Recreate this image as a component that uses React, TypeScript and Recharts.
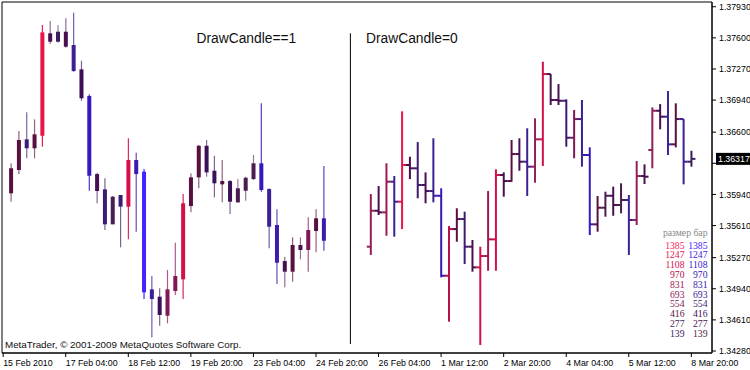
import {
  Bar,
  ComposedChart,
  ReferenceArea,
  ReferenceLine,
  XAxis,
  YAxis,
} from "recharts";

// EURUSD H4, two blocks: candles (DrawCandle==1) then OHLC bars (DrawCandle=0)
const candleStart = 0;
const candleOpen = [
  1.35952, 1.36199, 1.36524, 1.36429, 1.36562, 1.37648, 1.37559, 1.37665, 1.37524, 1.37266,
  1.36983, 1.36156, 1.35994, 1.35623, 1.35934, 1.3581, 1.36305, 1.36181, 1.34934, 1.34856,
  1.34654, 1.34916, 1.3504, 1.35817, 1.36121, 1.36456, 1.36191, 1.36047, 1.36082, 1.35856,
  1.35979, 1.36103, 1.3627, 1.35997, 1.35616, 1.35234, 1.35121, 1.35404, 1.35351, 1.35552,
  1.35687,
];
const candleHigh = [
  1.3627, 1.36612, 1.3681, 1.36736, 1.37736, 1.37778, 1.37736, 1.37807, 1.37866, 1.37357,
  1.37001, 1.3617, 1.36111, 1.35923, 1.35934, 1.36535, 1.36382, 1.36209, 1.35075, 1.34945,
  1.35139, 1.35428, 1.35944, 1.36164, 1.36464, 1.36517, 1.3635, 1.36305, 1.36093, 1.36103,
  1.36128, 1.36358, 1.36906, 1.36005, 1.35782, 1.3528, 1.35485, 1.35485, 1.35697, 1.35782,
  1.36241,
];
const candleLow = [
  1.35863, 1.36156, 1.36323, 1.36323, 1.36446, 1.37534, 1.37548, 1.37495, 1.37241, 1.36933,
  1.35979, 1.35846, 1.35563, 1.35623, 1.35379, 1.35464, 1.35545, 1.34831, 1.34425, 1.34548,
  1.34574, 1.34874, 1.34831, 1.3575, 1.36005, 1.36128, 1.35909, 1.35856, 1.35732, 1.35852,
  1.35873, 1.36093, 1.35969, 1.35369, 1.3499, 1.34955, 1.35015, 1.35252, 1.35121, 1.35326,
  1.35343,
];
const candleClose = [
  1.36217, 1.36517, 1.36429, 1.36577, 1.37658, 1.37559, 1.37665, 1.37506, 1.37248, 1.36959,
  1.36138, 1.35976, 1.35623, 1.35916, 1.3581, 1.36305, 1.36156, 1.34902, 1.34831, 1.34662,
  1.34934, 1.35075, 1.35846, 1.36121, 1.36456, 1.36174, 1.36058, 1.36082, 1.35863, 1.36005,
  1.36117, 1.3627, 1.35987, 1.35598, 1.35216, 1.35121, 1.35404, 1.35351, 1.35563, 1.35687,
  1.35449,
];

const barStart = 46;
const barOpen = [
  1.35386, 1.35767, 1.3575, 1.36075, 1.35863, 1.36252, 1.36217, 1.3604, 1.35976, 1.35926,
  1.35078, 1.35573, 1.35679, 1.35386, 1.35167, 1.35287, 1.35464, 1.36146, 1.36082, 1.36368,
  1.36287, 1.36234, 1.36524, 1.37216, 1.36941, 1.36933, 1.36541, 1.36739, 1.36358, 1.35623,
  1.35799, 1.35926, 1.35828, 1.35881, 1.35669, 1.36135, 1.36411, 1.36827, 1.36764, 1.36471,
  1.36739, 1.36287,
];
const barHigh = [
  1.35944, 1.36029, 1.3627, 1.36135, 1.36821, 1.3634, 1.36495, 1.36174, 1.36535, 1.36005,
  1.35605, 1.35793, 1.35757, 1.35457, 1.35386, 1.35976, 1.36206, 1.36174, 1.36517, 1.36535,
  1.36641, 1.36747, 1.37347, 1.37216, 1.3711, 1.36948, 1.36835, 1.36941, 1.36439, 1.35923,
  1.35969, 1.36022, 1.36058, 1.35934, 1.36294, 1.36259, 1.36863, 1.36898, 1.37036, 1.36906,
  1.36739, 1.36403,
];
const barLow = [
  1.35298, 1.35722, 1.35502, 1.35492, 1.35573, 1.36103, 1.35899, 1.35846, 1.35856, 1.35061,
  1.34591, 1.35439, 1.35202, 1.35121, 1.34344, 1.35131, 1.35131, 1.35916, 1.36075, 1.36191,
  1.35923, 1.36064, 1.36241, 1.36888, 1.36888, 1.36446, 1.36323, 1.36234, 1.3551, 1.35545,
  1.35704, 1.35714, 1.3574, 1.35298, 1.35616, 1.3605, 1.36217, 1.3663, 1.36358, 1.36439,
  1.36047, 1.36234,
];
const barClose = [
  1.35767, 1.3575, 1.36075, 1.35863, 1.36252, 1.36217, 1.3604, 1.35976, 1.35926, 1.35078,
  1.35573, 1.35679, 1.35386, 1.35167, 1.35287, 1.35464, 1.36146, 1.36082, 1.36368, 1.36287,
  1.36234, 1.36524, 1.37216, 1.36941, 1.36933, 1.36541, 1.36739, 1.36358, 1.35623, 1.35799,
  1.35926, 1.35828, 1.35881, 1.35669, 1.36135, 1.36128, 1.36827, 1.36764, 1.36471, 1.36739,
  1.36287, 1.36317,
];

const xTickSlots = [-1, 7, 15, 23, 31, 39, 47, 55, 63, 71, 79, 87];
const xTickLabels = [
  "15 Feb 2010", "17 Feb 04:00", "18 Feb 12:00", "19 Feb 20:00", "23 Feb 04:00", "24 Feb 20:00",
  "26 Feb 04:00", "1 Mar 12:00", "2 Mar 20:00", "4 Mar 04:00", "5 Mar 12:00", "8 Mar 20:00",
];
const yTicks = [
  1.3428, 1.3461, 1.3494, 1.3527, 1.3561, 1.3594, 1.3627, 1.366, 1.3694, 1.3727, 1.376, 1.3793,
];

// "размер бар" legend: bar range in points and its colour for up / down bars
const sizeLevels = [1385, 1247, 1108, 970, 831, 693, 554, 416, 277, 139];
const bullColors = ["#f41c58", "#e8144c", "#d41048", "#b81048", "#a01850", "#902058", "#801858", "#581040", "#4a1c50", "#3c1c60"];
const bearColors = ["#4424fc", "#4020e8", "#3818d4", "#3818bc", "#3c1cac", "#3c2094", "#3c1c70", "#3c1058", "#481050", "#541848"];

const xMin = -1.151;
const xMax = 89.642;
const yMin = 1.34259;
const yMax = 1.3798;
const dividerSlot = 43.4;
const dividerTop = 1.37648;
const dividerBottom = 1.34354;
const lastPrice = barClose[barClose.length - 1];

const AXIS_FONT = "'Liberation Sans', Arial, sans-serif";

type Row = { slot: number; kind: "candle" | "bar"; open: number; high: number; low: number; close: number };

const rows: Row[] = [
  ...candleOpen.map((o, i) => ({
    slot: candleStart + i, kind: "candle" as const,
    open: o, high: candleHigh[i], low: candleLow[i], close: candleClose[i],
  })),
  ...barOpen.map((o, i) => ({
    slot: barStart + i, kind: "bar" as const,
    open: o, high: barHigh[i], low: barLow[i], close: barClose[i],
  })),
];

const levelIndex = (r: Row) => {
  const size = (r.high - r.low) * 100000;
  let best = 0;
  sizeLevels.forEach((lv, i) => {
    if (Math.abs(lv - size) < Math.abs(sizeLevels[best] - size)) best = i;
  });
  return best;
};

const colorOf = (r: Row) => (r.close >= r.open ? bullColors : bearColors)[levelIndex(r)];

const OhlcShape = (props: any) => {
  const { x, y, width, height, payload } = props;
  if (!payload || x == null || y == null) return null;
  const r = payload as Row;
  const cx = x + (width || 0) / 2;
  const top = Math.min(y, y + height);
  const bottom = Math.max(y, y + height);
  const span = r.high - r.low || 1e-9;
  const toY = (v: number) => top + ((r.high - v) / span) * (bottom - top);
  const color = colorOf(r);

  if (r.kind === "candle") {
    const bTop = toY(Math.max(r.open, r.close));
    const bBottom = toY(Math.min(r.open, r.close));
    const wickOpacity = 0.5 + (0.5 * (r.high - r.low) * 100000) / 1385;
    return (
      <g>
        <line x1={cx} x2={cx} y1={top} y2={bottom} stroke={color} strokeWidth={1.2} strokeOpacity={Math.min(wickOpacity, 1)} />
        <rect x={cx - 2} y={bTop} width={4} height={Math.max(bBottom - bTop, 1.5)} fill={color} />
      </g>
    );
  }
  return (
    <g stroke={color} strokeWidth={2}>
      <line x1={cx} x2={cx} y1={top} y2={bottom} />
      <line x1={cx - 4} x2={cx} y1={toY(r.open)} y2={toY(r.open)} />
      <line x1={cx} x2={cx + 4} y1={toY(r.close)} y2={toY(r.close)} />
    </g>
  );
};

// MetaTrader puts the time label to the right of its tick mark
const TimeTick = (props: any) => {
  const { x, y, payload } = props;
  const label = xTickLabels[xTickSlots.indexOf(payload.value)] ?? "";
  return (
    <text x={x} y={y} dy="0.71em" textAnchor="start" fontSize={8.8} fontFamily={AXIS_FONT} fill="#000">
      {label}
    </text>
  );
};

// the price tag covers the scale label next to it
const priceLabel = (v: number) => (Math.abs(v - lastPrice) < 0.0006 ? "" : v.toFixed(5));

const PriceTag = (props: any) => {
  const vb = props.viewBox;
  if (!vb) return null;
  const left = vb.x + vb.width + 4;
  return (
    <g>
      <rect x={left} y={vb.y - 6} width={34} height={12} fill="#000" />
      <text x={left + 2} y={vb.y + 3.3} fontSize={8.8} fontFamily={AXIS_FONT} fill="#fff">
        {lastPrice.toFixed(5)}
      </text>
    </g>
  );
};

const ScreenTexts = () => (
  <g>
    <text x={196.5} y={43.3} fontSize={13.8} fontFamily={AXIS_FONT} fill="#111">DrawCandle==1</text>
    <text x={366} y={43} fontSize={13.8} fontFamily={AXIS_FONT} fill="#111">DrawCandle=0</text>
    <text x={5} y={348} fontSize={9.8} fontFamily={AXIS_FONT} fill="#111">
      MetaTrader, © 2001-2009 MetaQuotes Software Corp.
    </text>
    <text x={707.5} y={235.5} textAnchor="end" fontSize={9.7} fontFamily="'Liberation Serif', serif" fill="#888">
      размер бар
    </text>
    {sizeLevels.map((lv, i) => (
      <g key={lv} fontSize={9.7} fontFamily="'Liberation Serif', serif" textAnchor="end">
        <text x={684.5} y={248.5 + i * 9.8} fill={bullColors[i]}>{lv}</text>
        <text x={707.5} y={248.5 + i * 9.8} fill={bearColors[i]}>{lv}</text>
      </g>
    ))}
  </g>
);

export default function App() {
  return (
    <div style={{ position: "absolute", left: 0, top: 0, background: "#fff" }}>
      <ComposedChart
        width={750}
        height={370}
        data={rows}
        margin={{ top: 2, right: 0, bottom: 0, left: 2 }}
        barCategoryGap={0}
        barGap={0}
      >
        <XAxis
          dataKey="slot"
          type="number"
          domain={[xMin, xMax]}
          allowDataOverflow
          ticks={xTickSlots}
          interval={0}
          tick={<TimeTick />}
          tickSize={4}
          tickMargin={3}
          height={17}
          stroke="#000"
        />
        <YAxis
          orientation="right"
          type="number"
          domain={[yMin, yMax]}
          allowDataOverflow
          ticks={yTicks}
          interval={0}
          tickFormatter={priceLabel}
          tick={{ fontSize: 8.8, fontFamily: AXIS_FONT, fill: "#000" }}
          tickSize={4}
          tickMargin={3}
          width={38}
          stroke="#000"
        />
        <ReferenceArea
          x1={xMin}
          x2={xMax}
          y1={yMin}
          y2={yMax}
          fill="none"
          stroke="#000"
          strokeWidth={1}
          ifOverflow="visible"
        />
        <ReferenceLine
          segment={[
            { x: dividerSlot, y: dividerTop },
            { x: dividerSlot, y: dividerBottom },
          ]}
          stroke="#000"
          strokeWidth={1}
        />
        <Bar
          dataKey={(d: Row) => [d.low, d.high]}
          shape={OhlcShape}
          isAnimationActive={false}
        />
        <ReferenceLine y={lastPrice} stroke="none" label={<PriceTag />} ifOverflow="visible" />
        <ScreenTexts />
      </ComposedChart>
    </div>
  );
}
